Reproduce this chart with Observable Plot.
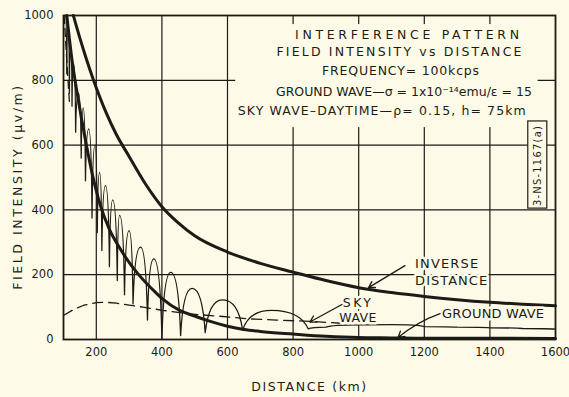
<!DOCTYPE html>
<html><head><meta charset="utf-8">
<script src="https://cdn.jsdelivr.net/npm/d3@7"></script>
<script src="https://cdn.jsdelivr.net/npm/@observablehq/plot@0.6"></script>
<style>html,body{margin:0;padding:0;background:#fdfbe7;}</style>
</head><body><div id="chart"></div>
<script>
// ---- data ----
const xTicks = [200, 400, 600, 800, 1000, 1200, 1400, 1600];
const yTicks = [0, 200, 400, 600, 800, 1000];
const xGrid = [200, 400, 600, 800, 1000, 1200, 1400];
const yGrid = [200, 400, 600, 800];

const inverseKm    = [130, 150, 170, 190, 210, 230, 260, 300, 350, 400, 450, 500, 600, 700, 800, 900, 1000, 1100, 1200, 1300, 1400, 1500, 1600];
const inverseField = [1000, 930, 865, 805, 750, 700, 635, 565, 480, 410, 360, 320, 270, 235, 208, 182, 160, 145, 133, 123, 115, 109, 104];

const groundKm    = [110, 125, 145, 167, 189, 212, 240, 271, 300, 326, 383, 400, 454, 495, 550, 600, 650, 700, 800, 900, 1000, 1100, 1200, 1400, 1600];
const groundField = [1000, 870, 740, 615, 505, 415, 340, 283, 238, 204, 143, 127, 90, 74, 55, 41, 31, 25, 17, 10, 6, 5, 4, 4, 3];

const skyKm    = [100, 130, 160, 200, 230, 261, 300, 342, 403, 485, 586, 658, 750, 850, 950];
const skyField = [74, 92, 105, 114, 115, 112, 106, 100, 90, 79, 71, 64, 60, 56, 50];

const nearDashKm    = [102, 106, 110, 115, 119];
const nearDashField = [1000, 930, 860, 780, 720];

const totalKm    = [106, 110, 114, 118, 122, 126, 131, 137, 146, 154, 160, 167, 177, 187, 196, 203, 210, 217, 228, 240, 250, 264, 271, 286, 300, 312, 335, 356, 375, 400, 427, 457, 492, 532, 585, 646, 734, 846, 900, 1000, 1100, 1200, 1300, 1400, 1500, 1600];
const totalField = [1000, 820, 960, 760, 900, 720, 850, 640, 760, 560, 715, 490, 650, 375, 600, 330, 516, 275, 475, 225, 431, 182, 383, 138, 336, 110, 285, 60, 249, 4, 207, 12, 158, 21, 122, 29, 90, 33, 38, 45, 46, 40, 38, 36, 34, 32];

const titleLines = [
  "INTERFERENCE PATTERN",
  "FIELD INTENSITY vs DISTANCE",
  "FREQUENCY= 100kcps",
  "GROUND WAVE\u2014\u03c3 = 1x10\u207b\u00b9\u2074emu/\u03b5 = 15",
  "SKY WAVE\u2013DAYTIME\u2014\u03c1= 0.15, h= 75km"
];
const yLabel = "FIELD INTENSITY (\u00b5v/m)";
const xLabel = "DISTANCE (km)";
const figId = "3-NS-1167(a)";

// ---- build tables ----
const zip = (a, b) => a.map((d, i) => ({km: d, v: b[i]}));
const inverse = zip(inverseKm, inverseField);
const ground = zip(groundKm, groundField);
const sky = zip(skyKm, skyField);
const nearDash = zip(nearDashKm, nearDashField);
const total = zip(totalKm, totalField);

const BG = "#fdfbe7", INK = "#1d1b15";
const FONT = "DejaVu Sans";

// curve: rounded lobes at maxima, sharp cusps at minima
function lobeCurve(context) {
  let pts = [];
  return {
    areaStart() {}, areaEnd() {},
    lineStart() { pts = []; },
    point(x, y) { pts.push([+x, +y]); },
    lineEnd() {
      if (!pts.length) return;
      context.moveTo(pts[0][0], pts[0][1]);
      for (let i = 1; i < pts.length; i++) {
        const [x0, y0] = pts[i - 1], [x1, y1] = pts[i];
        const k = 0.22;
        if (y1 < y0) context.quadraticCurveTo(x0 + k * (x1 - x0), y1, x1, y1);
        else context.quadraticCurveTo(x1 - k * (x1 - x0), y0, x1, y1);
      }
    }
  };
}

const one = [{}];
const titleX = [1153, 1126, 1129, 1138, 1072];
const titleY = [940, 886, 830, 764, 704];

const txt = (s, x, y, o = {}) => Plot.text([s], {x: () => x, y: () => y, fontFamily: FONT, fill: INK, ...o});
const halo = {stroke: BG, strokeWidth: 5};

const marks = [
  Plot.ruleX(xGrid, {stroke: INK, strokeWidth: 1.2}),
  Plot.ruleY(yGrid, {stroke: INK, strokeWidth: 1.2}),
  // blank panel behind the heading
  Plot.rect(one, {x1: () => 625, x2: () => 1547, y1: () => 654, y2: () => 972, fill: BG}),
  // figure id box
  Plot.rect(one, {x1: () => 1517, x2: () => 1575, y1: () => 404, y2: () => 673, fill: BG, stroke: INK, strokeWidth: 1.2}),
  txt(figId, 1546, 537, {rotate: -90, fontSize: 10}),
  // curves
  Plot.line(sky, {x: "km", y: "v", stroke: INK, strokeWidth: 1.3, strokeDasharray: "10,6"}),
  Plot.line(nearDash, {x: "km", y: "v", stroke: INK, strokeWidth: 1.3, strokeDasharray: "8,5"}),
  Plot.line(total, {x: "km", y: "v", stroke: INK, strokeWidth: 1.3, curve: lobeCurve}),
  Plot.line(ground, {x: "km", y: "v", stroke: INK, strokeWidth: 3, curve: "monotone-x"}),
  Plot.line(inverse, {x: "km", y: "v", stroke: INK, strokeWidth: 3, curve: "monotone-x"}),
  // heading
  ...titleLines.map((t, i) => txt(t, titleX[i], titleY[i], {fontSize: 12.5})),
  // callouts
  txt("INVERSE", 1172, 233, {textAnchor: "start", fontSize: 13, ...halo}),
  txt("DISTANCE", 1172, 182, {textAnchor: "start", fontSize: 13, ...halo}),
  txt("SKY", 998, 114, {fontSize: 12.5, ...halo}),
  txt("WAVE", 998, 65, {fontSize: 12.5, ...halo}),
  txt("GROUND WAVE", 1254, 80, {textAnchor: "start", fontSize: 13, ...halo}),
  Plot.arrow(one, {x1: () => 1141, y1: () => 228, x2: () => 1030, y2: () => 160, stroke: INK, strokeWidth: 1.3, headLength: 8}),
  Plot.arrow(one, {x1: () => 949, y1: () => 108, x2: () => 851, y2: () => 54, stroke: INK, strokeWidth: 1.3, headLength: 8}),
  Plot.arrow(one, {x1: () => 1248, y1: () => 80, x2: () => 1120, y2: () => 6, stroke: INK, strokeWidth: 1.3, headLength: 8, bend: -10}),
  // axis titles
  Plot.text([yLabel], {frameAnchor: "left", textAnchor: "middle", dx: -46, dy: 9, rotate: -90, fontSize: 12.5, fontFamily: FONT, fill: INK}),
  Plot.text([xLabel], {frameAnchor: "bottom", textAnchor: "middle", dy: 51, fontSize: 12.5, fontFamily: FONT, fill: INK}),
  Plot.frame({stroke: INK, strokeWidth: 1.8})
];

const chart = Plot.plot({
  width: 569, height: 397,
  marginLeft: 63, marginRight: 14, marginTop: 15, marginBottom: 58,
  style: {background: BG, color: INK, fontFamily: FONT, fontSize: "11.5px"},
  x: {domain: [100, 1600], ticks: xTicks, tickSize: 0, tickPadding: 8, tickFormat: d => String(d), label: null},
  y: {domain: [0, 1000], ticks: yTicks, tickSize: 0, tickPadding: 10, tickFormat: d => String(d), label: null},
  marks
});
document.getElementById("chart").appendChild(chart);

// widen letter spacing to the stencil lettering of the original
const widths = new Map([
  [titleLines[0], 224], [titleLines[1], 245], [titleLines[2], 157], [titleLines[3], 253], [titleLines[4], 288],
  [yLabel, 204], [xLabel, 115], ["INVERSE", 63], ["DISTANCE", 72], ["SKY", 28], ["WAVE", 37], ["GROUND WAVE", 102], [figId, 80]
]);
d3.select(chart).selectAll("text").each(function() {
  const w = widths.get(this.textContent);
  if (!w) return;
  const len = this.getComputedTextLength();
  const n = this.textContent.length;
  const ls = Math.max(0, (w - len) / (n - 1));
  d3.select(this).style("letter-spacing", ls + "px");
});
</script></body></html>
